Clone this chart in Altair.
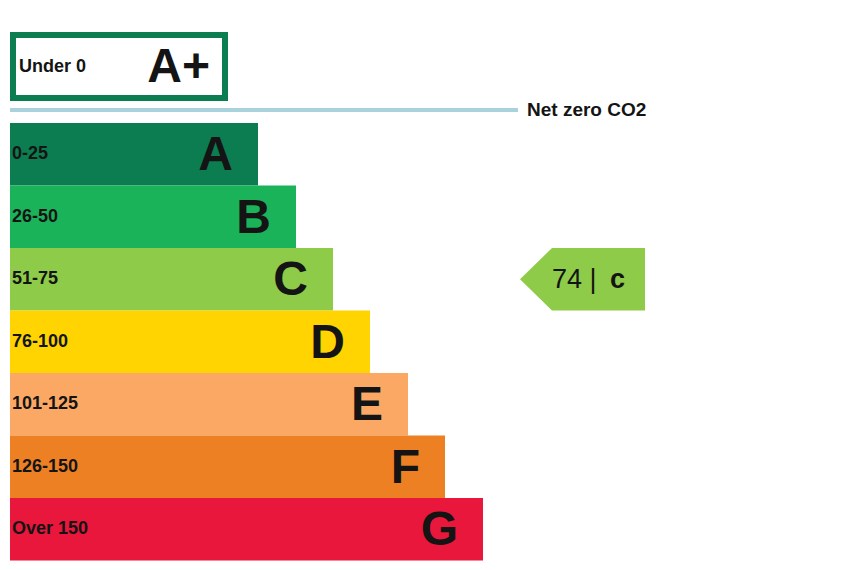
import altair as alt
import pandas as pd

# ---- data ----
bands = ["A", "B", "C", "D", "E", "F", "G"]
ranges = ["0-25", "26-50", "51-75", "76-100", "101-125", "126-150", "Over 150"]
colors = ["#0b7d50", "#1bb35a", "#8dcb48", "#ffd400", "#fba865", "#ee8024", "#e8173b"]
bar_end = [258, 296, 333, 370, 408, 445, 483]

top_band = "A+"
top_range = "Under 0"
net_zero_label = "Net zero CO2"

current_score = 74
current_band = "C"

FONT = "Liberation Sans"
INK = "#141414"

df = pd.DataFrame({
    "band": bands,
    "range": ranges,
    "color": colors,
    "end": bar_end,
    "i": list(range(len(bands))),
})

xs = alt.Scale(domain=[10, 840], nice=False, zero=False)
ys = alt.Scale(domain=[-1.84, 6.992], reverse=True, nice=False, zero=False)

base = alt.Chart(df).transform_calculate(i1="datum.i + 1", im="datum.i + 0.5")

bars = base.mark_rect().encode(
    x=alt.X("end:Q", scale=xs, axis=None),
    x2=alt.value(0),
    y=alt.Y("i:Q", scale=ys, axis=None),
    y2="i1:Q",
    color=alt.Color("color:N", scale=None, legend=None),
)

letters = base.mark_text(
    align="right", baseline="middle", font=FONT, fontWeight="bold",
    fontSize=48, dx=-25, dy=2, color=INK,
).encode(
    x=alt.X("end:Q", scale=xs, axis=None),
    y=alt.Y("im:Q", scale=ys, axis=None),
    text="band:N",
)

range_labels = base.mark_text(
    align="left", baseline="middle", font=FONT, fontWeight="bold",
    fontSize=18, color=INK,
).encode(
    x=alt.value(2),
    y=alt.Y("im:Q", scale=ys, axis=None),
    text="range:N",
)

one = alt.Chart(pd.DataFrame({"top": [top_band], "rng": [top_range], "nz": [net_zero_label]}))

top_box = one.mark_rect(fill="white", stroke=colors[0], strokeWidth=6).encode(
    x=alt.value(3), x2=alt.value(215), y=alt.value(27), y2=alt.value(90),
)
top_letter = one.mark_text(
    align="right", baseline="middle", font=FONT, fontWeight="bold",
    fontSize=48, dy=2, color=INK,
).encode(x=alt.value(200), y=alt.value(58), text="top:N")
top_range_txt = one.mark_text(
    align="left", baseline="middle", font=FONT, fontWeight="bold",
    fontSize=18, color=INK,
).encode(x=alt.value(9), y=alt.value(59), text="rng:N")

nz_rule = one.mark_rule(color="#a9d2dc", strokeWidth=4).encode(
    x=alt.value(0), x2=alt.value(508), y=alt.value(102),
)
nz_text = one.mark_text(
    align="left", baseline="middle", font=FONT, fontWeight="bold",
    fontSize=19, color=INK,
).encode(x=alt.value(517), y=alt.value(102), text="nz:N")

# ---- current rating arrow ----
idx = bands.index(current_band)
arrow_df = pd.DataFrame({
    "x": [520, 552, 645],
    "y": [idx + 0.5, idx, idx],
    "y2": [idx + 0.5, idx + 1, idx + 1],
})
arrow = alt.Chart(arrow_df).mark_area(color=colors[idx], opacity=1).encode(
    x=alt.X("x:Q", scale=xs, axis=None),
    y=alt.Y("y:Q", scale=ys, axis=None),
    y2="y2:Q",
)
lab_df = pd.DataFrame({
    "score": [f"{current_score} |"], "band": [current_band.lower()],
    "x1": [552], "x2": [610], "y": [idx + 0.5],
})
score_txt = alt.Chart(lab_df).mark_text(
    align="left", baseline="middle", font=FONT, fontSize=27, color=INK, dy=1,
).encode(
    x=alt.X("x1:Q", scale=xs, axis=None),
    y=alt.Y("y:Q", scale=ys, axis=None),
    text="score:N",
)
band_txt = alt.Chart(lab_df).mark_text(
    align="left", baseline="middle", font=FONT, fontSize=27, fontWeight="bold",
    color=INK, dy=1,
).encode(
    x=alt.X("x2:Q", scale=xs, axis=None),
    y=alt.Y("y:Q", scale=ys, axis=None),
    text="band:N",
)

chart = alt.layer(
    bars, letters, range_labels,
    top_box, top_letter, top_range_txt,
    nz_rule, nz_text,
    arrow, score_txt, band_txt,
).properties(
    width=830, height=552, padding=0, background="white",
).configure_view(stroke=None)

chart.save("out.html", embed_options={"renderer": "svg", "actions": False})
